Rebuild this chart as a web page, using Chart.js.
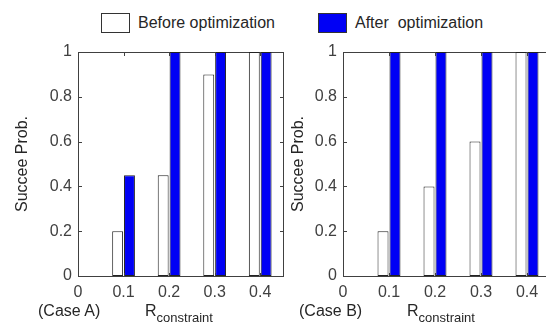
<!DOCTYPE html>
<html>
<head>
<meta charset="utf-8">
<script src="https://cdn.jsdelivr.net/npm/chart.js@4"></script>
<style>
    html, body { margin: 0; padding: 0; width: 546px; height: 336px; overflow: hidden; background: #fff; }
    body { position: relative; font-family: "Liberation Sans", Arial, sans-serif; color: #262626; }
    canvas { position: absolute; }
    .lbl { position: absolute; font-size: 16px; line-height: 16px; white-space: pre; }
    .lbl sub { font-size: 13px; vertical-align: -6px; line-height: 0; }
    .box { position: absolute; width: 27px; height: 18px; border: 1px solid #333; }
    .frame { position: absolute; border: 1px solid #404040; box-sizing: border-box; }
</style>
</head>
<body>
<div class="box" style="left:101px; top:13px; background:#fff;"></div>
<div class="lbl" style="left:138px; top:15px;">Before optimization</div>
<div class="box" style="left:318px; top:13px; background:#0000f5;"></div>
<div class="lbl" style="left:355px; top:15px;">After  optimization</div>

<div class="frame" style="left:78px; top:52px; width:206px; height:225px;"></div>
<div class="frame" style="left:343px; top:52px; width:208px; height:225px;"></div>

<canvas id="chartA" width="290" height="296" style="left:0; top:40px;"></canvas>
<canvas id="chartB" width="290" height="296" style="left:270px; top:40px;"></canvas>

<div class="lbl" style="left:38px; top:303px;">(Case A)</div>
<div class="lbl" style="left:145px; top:303px;">R<sub>constraint</sub></div>
<div class="lbl" style="left:299px; top:303px;">(Case B)</div>
<div class="lbl" style="left:407px; top:303px;">R<sub>constraint</sub></div>

<script>
const rValues = [0.1, 0.2, 0.3, 0.4];
const xTicks = [0, 0.1, 0.2, 0.3, 0.4];
const xTickLabels = ["0", "0.1", "0.2", "0.3", "0.4"];
const yTicks = [0, 0.2, 0.4, 0.6, 0.8, 1];
const yTickLabels = ["0", "0.2", "0.4", "0.6", "0.8", "1"];
const beforeA = [0.2, 0.45, 0.9, 1];
const afterA = [0.45, 1, 1, 1];
const beforeB = [0.2, 0.4, 0.6, 1];
const afterB = [1, 1, 1, 1];

// small inward ticks along the plot box
const tickPlugin = {
    id: "inTicks",
    afterDraw(chart) {
        const ctx = chart.ctx;
        const a = chart.chartArea;
        const l = Math.round(a.left), r = Math.round(a.right);
        const t = Math.round(a.top), b = Math.round(a.bottom);
        ctx.save();
        ctx.fillStyle = "#404040";
        yTicks.forEach((v) => {
            const y = Math.round(chart.scales.y.getPixelForValue(v));
            ctx.fillRect(l, y, 4, 1);
            ctx.fillRect(r - 3, y, 4, 1);
        });
        xTicks.forEach((v) => {
            const x = Math.round(chart.scales.x.getPixelForValue(v));
            ctx.fillRect(x, b - 3, 1, 4);
            ctx.fillRect(x, t, 1, 4);
        });
        ctx.restore();
    },
};

function makeChart(id, before, after, yWidth, titlePad, rightPad) {
    const tickFont = { family: "Liberation Sans", size: 16 };
    return new Chart(document.getElementById(id), {
        type: "bar",
        data: {
            datasets: [
                {
                    label: "Before optimization",
                    data: rValues.map((x, i) => ({ x: x, y: before[i] })),
                    backgroundColor: "#ffffff",
                    borderColor: "#222222",
                    borderWidth: 1,
                    borderSkipped: false,
                    categoryPercentage: 0.52,
                    barPercentage: 0.92,
                },
                {
                    label: "After optimization",
                    data: rValues.map((x, i) => ({ x: x, y: after[i] })),
                    backgroundColor: "#0000f5",
                    borderColor: "#222222",
                    borderWidth: 1,
                    borderSkipped: false,
                    categoryPercentage: 0.52,
                    barPercentage: 0.92,
                },
            ],
        },
        options: {
            responsive: false,
            animation: false,
            layout: { padding: { top: 12, right: rightPad, left: 0, bottom: 0 } },
            plugins: {
                legend: { display: false },
                tooltip: { enabled: false },
            },
            scales: {
                x: {
                    type: "linear",
                    min: 0,
                    max: 0.45,
                    offset: false,
                    afterBuildTicks: (s) => { s.ticks = xTicks.map((v) => ({ value: v })); },
                    afterFit: (s) => { s.height = 60; s.paddingLeft = 0; s.paddingRight = 0; },
                    grid: { display: false, drawTicks: false, offset: false },
                    border: { display: false },
                    ticks: {
                        font: tickFont, color: "#404040", padding: 7, maxRotation: 0,
                        callback: (v, i) => xTickLabels[i],
                    },
                },
                y: {
                    min: 0,
                    max: 1,
                    afterBuildTicks: (s) => { s.ticks = yTicks.map((v) => ({ value: v })); },
                    afterFit: (s) => { s.width = yWidth; s.paddingTop = 0; s.paddingBottom = 0; },
                    grid: { display: false, drawTicks: false },
                    border: { display: false },
                    ticks: {
                        font: tickFont, color: "#404040", padding: 6,
                        callback: (v, i) => yTickLabels[i],
                    },
                    title: {
                        display: true,
                        text: "Succee Prob.",
                        font: { family: "Liberation Sans", size: 16 },
                        color: "#262626",
                        padding: { top: titlePad, bottom: 0 },
                    },
                },
            },
        },
        plugins: [tickPlugin],
    });
}

makeChart("chartA", beforeA, afterA, 78, 13, 7);
makeChart("chartB", beforeB, afterB, 73, 19, 10);
</script>
</body>
</html>
